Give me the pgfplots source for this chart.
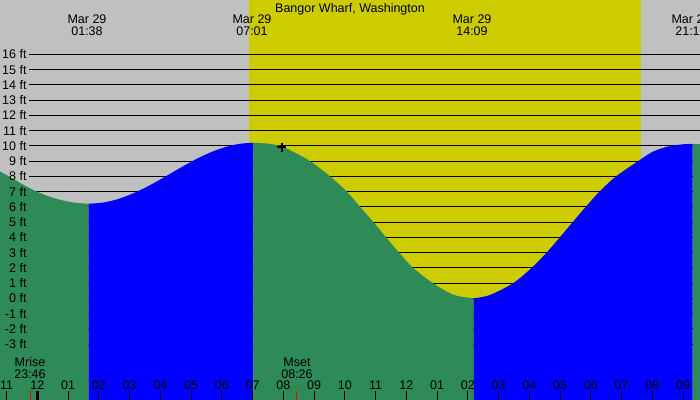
\documentclass[border=0pt]{standalone}
\usepackage{fontspec}
\setmainfont{Liberation Sans}
\usepackage{pgfplots}
\pgfplotsset{compat=1.18}
\definecolor{skyg}{RGB}{192,192,192}
\definecolor{sunY}{RGB}{204,204,0}
\definecolor{ebbG}{RGB}{46,139,87}
\definecolor{floodB}{RGB}{0,0,255}
\newcommand\f{\fontsize{12.5}{15}\selectfont}
\begin{document}
\begin{tikzpicture}
\begin{axis}[
  scale only axis, width=700pt, height=400pt,
  xmin=-1.216, xmax=21.548, ymin=-6.669, ymax=19.561,
  axis line style={draw=none},
  axis on top,
  xtick={-1,0,...,21},
  xticklabels={11,12,01,02,03,04,05,06,07,08,09,10,11,12,01,02,03,04,05,06,07,08,09},
  xtick pos=lower, ytick pos=left,
  tick align=inside,
  tick style={black, line width=1pt},
  major tick length=8.5pt,
  ytick={-3,...,16},
  yticklabels={-3 ft,-2 ft,-1 ft,0 ft,1 ft,2 ft,3 ft,4 ft,5 ft,6 ft,7 ft,8 ft,9 ft,10 ft,11 ft,12 ft,13 ft,14 ft,15 ft,16 ft},
  y tick style={draw=none},
  ticklabel style={font=\f, inner sep=0pt},
  xticklabel style={anchor=base, yshift=10.3pt},
  yticklabel style={anchor=base east, xshift=26.7pt, yshift=-4.5pt},
  extra x ticks={-0.233,8.433},
  extra x tick labels={},
  extra x tick style={tick style={red, line width=1pt}},
]
% night / day background
\addplot[fill=skyg, draw=none] coordinates {(-2,-8) (23,-8) (23,21) (-2,21)};
\addplot[fill=sunY, draw=none] coordinates {(6.891,-8) (19.629,-8) (19.629,21) (6.891,21)};
% height lines
\pgfplotsinvokeforeach{-3,...,16}{
  \addplot[black, line width=1pt] coordinates {(-0.273,#1) (22,#1)};
}
% tide curve segments (smooth top, straight sides)
\addplot[fill=ebbG, draw=none, smooth] coordinates {
  (-1.3,8.42) (-1.216,8.32) (-0.8,7.85) (-0.4,7.38) (0.0,6.98) (0.4,6.66)
  (0.8,6.43) (1.2,6.27) (1.67,6.20)} -- (1.67,-8) -- (-1.3,-8) -- cycle;

\addplot[fill=floodB, draw=none, smooth] coordinates {
  (1.67,6.20) (2.116,6.27) (2.562,6.47) (3.007,6.79) (3.453,7.20) (3.899,7.68)
  (4.345,8.20) (4.791,8.72) (5.237,9.20) (5.682,9.61) (6.128,9.93) (6.574,10.13)
  (7.02,10.2)} -- (7.02,-8) -- (1.67,-8) -- cycle;

\addplot[fill=ebbG, draw=none, smooth] coordinates {
  (7.02,10.2) (7.5,10.14) (7.95,9.96) (8.42,9.5) (8.865,9.0)
  (9.515,8.0) (10.059,7.0) (10.491,6.0) (10.924,5.0) (11.337,4.0) (11.759,3.0)
  (12.215,2.0) (12.855,1.0) (13.418,0.33) (13.74,0.12) (14.19,0.0)}
  -- (14.19,-8) -- (7.02,-8) -- cycle;

\addplot[fill=floodB, draw=none, smooth] coordinates {
  (14.19,0.0) (14.72,0.22) (15.476,1.0) (16.075,2.0) (16.56,3.0)
  (16.99,4.0) (17.41,5.0) (17.835,6.0) (18.28,7.0) (18.82,8.0) (19.54,9.0)
  (20.0,9.6) (20.5,9.95) (21.0,10.1) (21.31,10.12)}
  -- (21.31,-8) -- (14.19,-8) -- cycle;

\addplot[fill=ebbG, draw=none] coordinates {
  (21.31,-8) (21.31,10.12) (21.7,10.12) (21.7,-8)};
% current time
\addplot[only marks, mark=+, mark size=4.5pt, mark options={line width=1.3pt, black}]
  coordinates {(7.954,9.92)};
% midnight tick
\draw[black, line width=3pt] (axis cs:0,-6.669) -- ++(0pt,8.5pt);
\end{axis}
\begin{scope}[shift={(current axis.north west)}, x=1pt, y=-1pt]
  \node[anchor=base, font=\f, inner sep=0pt] at (350,12.3) {Bangor Wharf, Washington};
  \node[anchor=base, font=\f, inner sep=0pt] at (87,24) {Mar 29};
  \node[anchor=base, font=\f, inner sep=0pt] at (87,36) {01:38};
  \node[anchor=base, font=\f, inner sep=0pt] at (252,24) {Mar 29};
  \node[anchor=base, font=\f, inner sep=0pt] at (252,36) {07:01};
  \node[anchor=base, font=\f, inner sep=0pt] at (472,24) {Mar 29};
  \node[anchor=base, font=\f, inner sep=0pt] at (472,36) {14:09};
  \node[anchor=base, font=\f, inner sep=0pt] at (691,24) {Mar 29};
  \node[anchor=base, font=\f, inner sep=0pt] at (691,36) {21:19};
  \node[anchor=base, font=\f, inner sep=0pt] at (30,366.3) {Mrise};
  \node[anchor=base, font=\f, inner sep=0pt] at (30,378.3) {23:46};
  \node[anchor=base, font=\f, inner sep=0pt] at (297,366.3) {Mset};
  \node[anchor=base, font=\f, inner sep=0pt] at (297,378.3) {08:26};
\end{scope}
\pgfresetboundingbox
\path (current axis.south west) rectangle (current axis.north east);
\end{tikzpicture}
\end{document}
